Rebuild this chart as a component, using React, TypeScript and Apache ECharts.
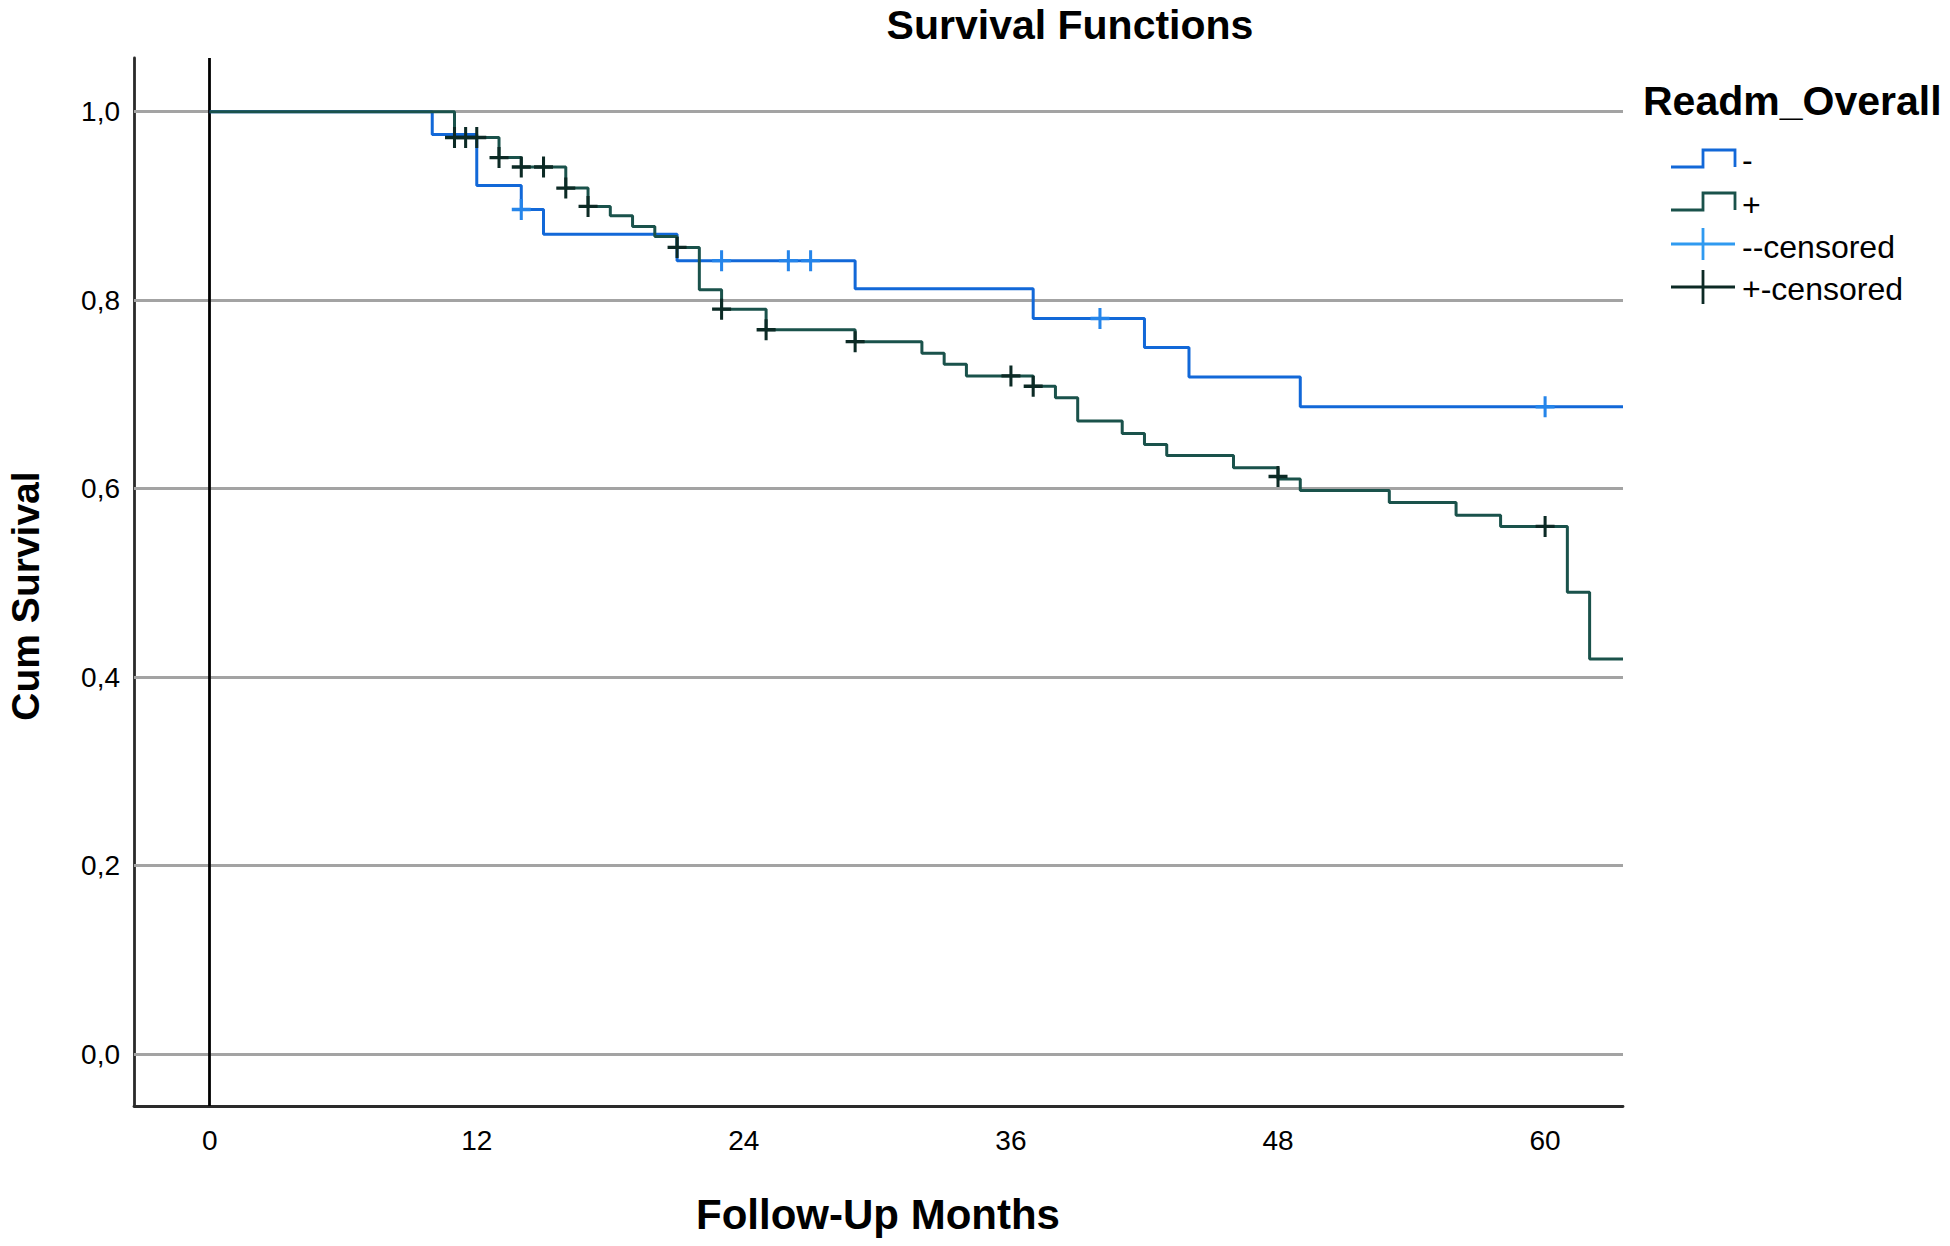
import React, { useEffect, useRef } from "react";
import * as echarts from "echarts";

// Kaplan-Meier steps, group "-"
const minusTimes = [0, 10, 12, 14, 15, 21, 29, 37, 42, 44, 49, 63.5];
const minusSurv = [1.0, 0.9757, 0.9218, 0.8963, 0.87, 0.842, 0.8122, 0.7806, 0.7498, 0.7186, 0.687, 0.687];
const minusCensTimes = [14, 23, 26, 27, 40, 60];
const minusCensSurv = [0.8963, 0.842, 0.842, 0.842, 0.7806, 0.687];

// Kaplan-Meier steps, group "+"
const plusTimes = [0, 11, 13, 14, 16, 17, 18, 19, 20, 21, 22, 23, 25, 29, 32, 33, 34, 37, 38, 39, 41, 42, 43, 46, 48, 49, 53, 56, 58, 61, 62, 63.5];
const plusSurv = [1.0, 0.9726, 0.9513, 0.9413, 0.919, 0.8995, 0.8896, 0.8783, 0.8677, 0.856, 0.811, 0.7905, 0.7686, 0.756, 0.7438, 0.732, 0.7197, 0.7087, 0.6966, 0.6718, 0.6587, 0.647, 0.6353, 0.6221, 0.6104, 0.598, 0.5853, 0.5718, 0.56, 0.4902, 0.4194, 0.4194];
const plusCensTimes = [11, 11.5, 12, 13, 14, 15, 16, 17, 21, 23, 25, 29, 36, 37, 48, 60];
const plusCensSurv = [0.9726, 0.9726, 0.9726, 0.9513, 0.9413, 0.9413, 0.919, 0.8995, 0.856, 0.7905, 0.7686, 0.756, 0.7197, 0.7087, 0.613, 0.56];

const xTicks = [0, 12, 24, 36, 48, 60];
const yTicks = [0, 0.2, 0.4, 0.6, 0.8, 1.0];

const legendLabels = ["-", "+", "--censored", "+-censored"];

const FONT = "'Liberation Sans', Arial, Helvetica, sans-serif";
const BLUE = "#1268d8";
const BLUE_CENS = "#2585ea";
const GREEN = "#1a524b";
const DARK_CENS = "#0c2a25";

const CROSS = "path://M-1.6,-10L1.6,-10L1.6,10L-1.6,10Z M-10,-1.6L10,-1.6L10,1.6L-10,1.6Z";

export default function App() {
  const ref = useRef<HTMLDivElement>(null);

  useEffect(() => {
    document.body.style.margin = "0";
    if (!ref.current) return;
    const chart = echarts.init(ref.current, undefined, { renderer: "svg" });

    const pair = (xs: number[], ys: number[]) => xs.map((x, i) => [x, ys[i]]);

    const gx = 1671, gxMid = 1703, gxEnd = 1735;
    const legendGraphics: any[] = [
      {
        type: "text",
        left: 1643,
        top: 103 - 23,
        style: { text: "Readm_Overall", font: `bold 41px ${FONT}`, fill: "#000" },
      },
      {
        type: "polyline",
        shape: { points: [[gx, 167], [gxMid, 167], [gxMid, 150], [gxEnd, 150], [gxEnd, 167]] },
        style: { stroke: BLUE, lineWidth: 2.8, fill: "none" },
      },
      {
        type: "polyline",
        shape: { points: [[gx, 210], [gxMid, 210], [gxMid, 193], [gxEnd, 193], [gxEnd, 210]] },
        style: { stroke: GREEN, lineWidth: 2.8, fill: "none" },
      },
      { type: "line", shape: { x1: gx, y1: 244, x2: gxEnd, y2: 244 }, style: { stroke: "#2f9af0", lineWidth: 2.8 } },
      { type: "line", shape: { x1: gxMid, y1: 228, x2: gxMid, y2: 260 }, style: { stroke: "#2f9af0", lineWidth: 2.8 } },
      { type: "line", shape: { x1: gx, y1: 287, x2: gxEnd, y2: 287 }, style: { stroke: DARK_CENS, lineWidth: 2.8 } },
      { type: "line", shape: { x1: gxMid, y1: 270, x2: gxMid, y2: 304 }, style: { stroke: DARK_CENS, lineWidth: 2.8 } },
    ];
    const legendY = [160, 205, 247, 289];
    legendLabels.forEach((t, i) => {
      legendGraphics.push({
        type: "text",
        x: 1742,
        y: legendY[i],
        style: { text: t, font: `32px ${FONT}`, fill: "#000", verticalAlign: "middle", align: "left" },
      });
    });

    chart.setOption({
      animation: false,
      backgroundColor: "#ffffff",
      grid: { left: 134, right: 327, top: 58, bottom: 140, containLabel: false },
      xAxis: {
        type: "value",
        min: -3.4,
        max: 63.5,
        axisLine: { show: true, onZero: false, lineStyle: { color: "#2a2a2a", width: 2.8 } },
        axisTick: { show: false },
        splitLine: { show: false },
        axisLabel: {
          customValues: xTicks,
          fontSize: 28,
          fontFamily: FONT,
          color: "#000",
          margin: 20,
        },
      },
      yAxis: {
        type: "value",
        min: -0.055,
        max: 1.057,
        axisLine: { show: true, onZero: false, lineStyle: { color: "#2a2a2a", width: 2.8 } },
        axisTick: { show: false },
        splitLine: { show: false },
        axisLabel: {
          customValues: yTicks,
          fontSize: 28,
          fontFamily: FONT,
          color: "#000",
          margin: 14,
          formatter: (v: number) => v.toFixed(1).replace(".", ","),
        },
      },
      graphic: [
        {
          type: "text",
          x: 1070,
          y: 25,
          style: { text: "Survival Functions", font: `bold 41px ${FONT}`, fill: "#000", align: "center", verticalAlign: "middle" },
        },
        {
          type: "text",
          x: 878,
          y: 1214,
          style: { text: "Follow-Up Months", font: `bold 42px ${FONT}`, fill: "#000", align: "center", verticalAlign: "middle" },
        },
        {
          type: "text",
          x: 25,
          y: 596,
          rotation: Math.PI / 2,
          style: { text: "Cum Survival", font: `bold 39px ${FONT}`, fill: "#000", align: "center", verticalAlign: "middle" },
        },
        ...legendGraphics,
      ],
      series: [
        {
          type: "line",
          name: "grid",
          data: [],
          z: 1,
          silent: true,
          markLine: {
            z: 1,
            silent: true,
            symbol: ["none", "none"],
            label: { show: false },
            lineStyle: { color: "#a3a3a3", width: 2.8, type: "solid" },
            data: yTicks.map((v) => ({ yAxis: v })),
          },
        },
        {
          type: "line",
          name: "zero",
          data: [],
          z: 2,
          silent: true,
          markLine: {
            z: 2,
            silent: true,
            symbol: ["none", "none"],
            label: { show: false },
            lineStyle: { color: "#000", width: 2.8, type: "solid" },
            data: [{ xAxis: 0 }],
          },
        },
        {
          type: "line",
          name: "-",
          step: "end",
          data: pair(minusTimes, minusSurv),
          showSymbol: false,
          lineStyle: { color: BLUE, width: 3 },
          itemStyle: { color: BLUE },
          z: 10,
        },
        {
          type: "line",
          name: "+",
          step: "end",
          data: pair(plusTimes, plusSurv),
          showSymbol: false,
          lineStyle: { color: GREEN, width: 3 },
          itemStyle: { color: GREEN },
          z: 11,
        },
        {
          type: "scatter",
          name: "--censored",
          data: pair(minusCensTimes, minusCensSurv),
          symbol: CROSS,
          symbolSize: [19, 21],
          itemStyle: { color: BLUE_CENS, opacity: 1 },
          z: 12,
        },
        {
          type: "scatter",
          name: "+-censored",
          data: pair(plusCensTimes, plusCensSurv),
          symbol: CROSS,
          symbolSize: [19, 21],
          itemStyle: { color: DARK_CENS, opacity: 1 },
          z: 12,
        },
      ],
    });

    return () => chart.dispose();
  }, []);

  return <div ref={ref} style={{ width: 1950, height: 1246 }} />;
}
